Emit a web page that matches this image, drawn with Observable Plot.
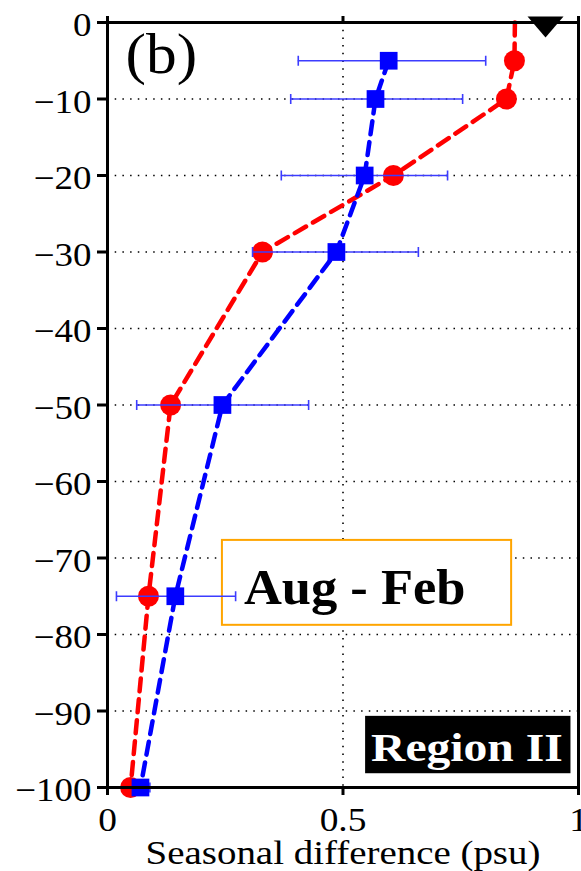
<!DOCTYPE html>
<html>
<head>
<meta charset="utf-8">
<script src="https://cdn.jsdelivr.net/npm/d3@7"></script>
<script src="https://cdn.jsdelivr.net/npm/@observablehq/plot@0.6"></script>
<style>
  html, body { margin: 0; padding: 0; background: #fff; }
  #chart svg { display: block; overflow: visible; }
</style>
</head>
<body>
<div id="chart"></div>
<script>
// ---- data ----
const depths = [-5, -10, -20, -30, -50, -75, -100];
const redDepths = [0, -5, -10, -20, -30, -50, -75, -100];
const redValues = [0.865, 0.864, 0.847, 0.607, 0.329, 0.134, 0.087, 0.049];
const redMarked = [false, true, true, true, true, true, true, true];
const blueValues = [0.597, 0.569, 0.546, 0.486, 0.244, 0.144, 0.070];
const blueLow = [0.405, 0.389, 0.369, 0.308, 0.062, 0.019, 0.0];
const blueHigh = [0.803, 0.754, 0.722, 0.660, 0.427, 0.272, 0.09];
const markerX = [0.93];
const markerY = [0];
const yTicks = [0, -10, -20, -30, -40, -50, -60, -70, -80, -90, -100];
const xTicks = [0, 0.5, 1];
const xTickLabels = ["0", "0.5", "1"];
const xLabel = "Seasonal difference (psu)";
const panelLabel = "(b)";
const seasonLabel = "Aug - Feb";
const regionLabel = "Region II";

const red = redDepths.map((d, i) => ({depth: d, value: redValues[i], marked: redMarked[i]}));
const blue = depths.map((d, i) => ({depth: d, value: blueValues[i], lo: blueLow[i], hi: blueHigh[i]}));
const marker = markerX.map((x, i) => ({x, y: markerY[i]}));

const serif = "'Liberation Serif', 'Times New Roman', serif";

const invTriangle = {
  draw(ctx) {
    ctx.moveTo(-18, -6);
    ctx.lineTo(18, -6);
    ctx.lineTo(0, 15);
    ctx.closePath();
  }
};
const capSymbol = {
  draw(ctx) {
    ctx.moveTo(0, -5);
    ctx.lineTo(0, 5);
  }
};

const chart = Plot.plot({
  width: 581,
  height: 871,
  marginLeft: 107,
  marginRight: 3,
  marginTop: 22,
  marginBottom: 84,
  style: {background: "#fff", fontFamily: serif},
  x: {domain: [0, 1]},
  y: {domain: [-100, 0]},
  marks: [
    // grid
    Plot.ruleY(yTicks.filter(d => d !== 0 && d !== -100), {stroke: "#000", strokeWidth: 1.6, strokeDasharray: "1.5,6.2"}),
    Plot.ruleX([0.5], {stroke: "#000", strokeWidth: 1.6, strokeDasharray: "1.5,6.2"}),
    // annotation box for season
    Plot.rect([seasonLabel], {x1: 0.244, x2: 0.858, y1: -67.7, y2: -78.8, fill: "#fff", stroke: "#FFA500", strokeWidth: 2}),
    Plot.text([seasonLabel], {x: 0.5248, y: -73.9, text: d => d, fontSize: 50, fontWeight: "bold", fontFamily: serif, fill: "#000"}),
    // region box
    Plot.rect([regionLabel], {x1: 0.548, x2: 0.984, y1: -90.7, y2: -98.2, fill: "#000"}),
    Plot.text([regionLabel], {x: 0.763, y: -94.8, text: d => d, fontSize: 40, fontWeight: "bold", fontFamily: serif, fill: "#fff"}),
    // red series
    Plot.line(red, {x: "value", y: "depth", stroke: "#ff0000", strokeWidth: 4.5, strokeDasharray: "13,8"}),
    Plot.dot(red.filter(d => d.marked), {x: "value", y: "depth", r: 10.5, fill: "#ff0000", stroke: "none"}),
    // blue series
    Plot.ruleY(blue, {y: "depth", x1: "lo", x2: "hi", stroke: "#3c3cff", strokeWidth: 1.6}),
    Plot.dot(blue, {x: "lo", y: "depth", symbol: capSymbol, stroke: "#3c3cff", strokeWidth: 1.6, r: 5}),
    Plot.dot(blue, {x: "hi", y: "depth", symbol: capSymbol, stroke: "#3c3cff", strokeWidth: 1.6, r: 5}),
    Plot.line(blue, {x: "value", y: "depth", stroke: "#0000ff", strokeWidth: 4.5, strokeDasharray: "13,8"}),
    Plot.dot(blue, {x: "value", y: "depth", symbol: "square", r: 10, fill: "#0000ff", stroke: "none"}),
    // top marker
    Plot.dot(marker, {x: "x", y: "y", symbol: invTriangle, fill: "#000", stroke: "none", r: 10}),
    // frame
    Plot.frame({stroke: "#000", strokeWidth: 3}),
    // axes: y ticks, then y labels (slightly lowered)
    Plot.axisY({ticks: yTicks, tickSize: 10, strokeWidth: 3, label: null, tickFormat: () => ""}),
    Plot.axisY({ticks: yTicks, tickSize: 0, tickPadding: 16, dy: 3, fontSize: 33, fontFamily: serif, label: null, tickFormat: d => d === 0 ? "0" : "\u2212" + Math.abs(d)}),
    Plot.axisX({ticks: xTicks, tickSize: 8, tickPadding: 11, fontSize: 34, fontFamily: serif, strokeWidth: 3, label: null, tickFormat: (d, i) => xTickLabels[i]}),
    Plot.axisX({anchor: "top", ticks: xTicks, tickSize: 7, strokeWidth: 3, label: null, tickFormat: () => ""}),
    // labels
    Plot.text([panelLabel], {frameAnchor: "top-left", dx: 18, dy: 32, lineAnchor: "middle", text: d => d, fontSize: 58, fontFamily: serif, textAnchor: "start", fill: "#000"}),
    Plot.text([xLabel], {frameAnchor: "bottom", dy: 66, lineAnchor: "middle", text: d => d, fontSize: 33, fontFamily: serif, fill: "#000"})
  ]
});
document.getElementById("chart").appendChild(chart);

// horizontal stretch of the lettering, as in the reference
function stretchBy(test, s) {
  chart.querySelectorAll("text").forEach(t => {
    if (test(t)) t.setAttribute("transform", (t.getAttribute("transform") || "") + ` scale(${s},1)`);
  });
}
const inGroup = label => t => t.parentNode && t.parentNode.getAttribute("aria-label") === label;
const hasText = str => t => t.textContent === str;
stretchBy(inGroup("y-axis tick label"), 1.12);
stretchBy(inGroup("x-axis tick label"), 1.1);
stretchBy(hasText(xLabel), 1.18);
stretchBy(hasText(panelLabel), 1.06);
stretchBy(hasText(seasonLabel), 1.05);
stretchBy(hasText(regionLabel), 1.19);
</script>
</body>
</html>
